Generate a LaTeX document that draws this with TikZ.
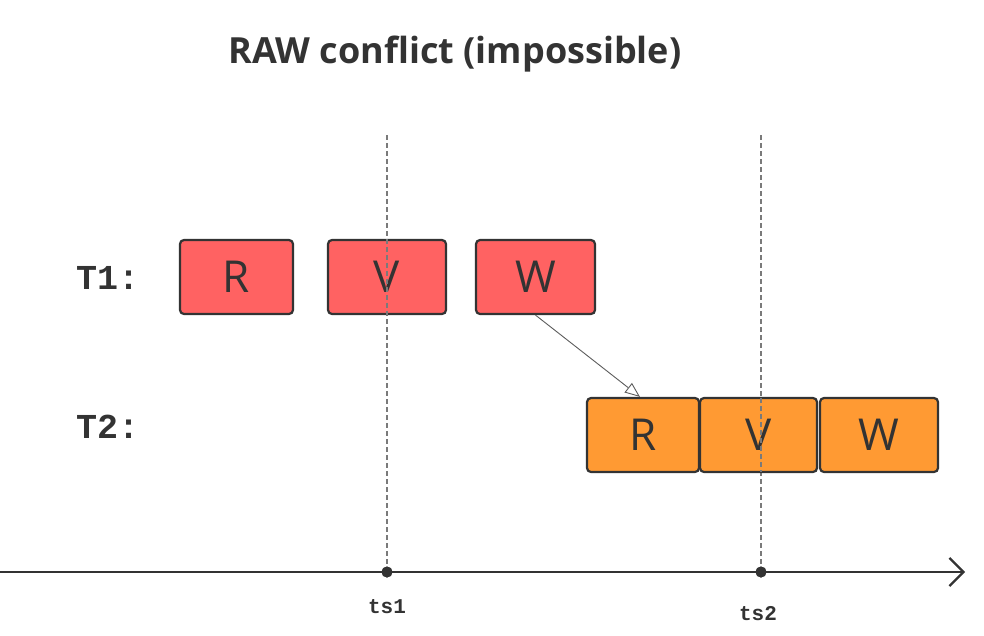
\documentclass[tikz,border=0pt]{standalone}
\usepackage{fontspec}
\setmainfont{Open Sans}
\newfontfamily\monob{Liberation Mono}
\usetikzlibrary{arrows.meta}
\definecolor{ink}{HTML}{333333}
\definecolor{redbox}{HTML}{FF6262}
\definecolor{orbox}{HTML}{FF9A33}
\definecolor{dash}{HTML}{7A7A7A}
\tikzset{
  opbox/.style={draw=ink, line width=2.2pt, rounded corners=4pt, minimum height=74pt, text=ink, font=\fontsize{44}{44}\selectfont, inner sep=0pt},
  t1box/.style={opbox, fill=redbox},
  t2box/.style={opbox, fill=orbox},
  tlabel/.style={text=ink, font=\monob\bfseries\fontsize{35}{35}\selectfont, inner sep=0pt},
  tslabel/.style={text=ink, font=\monob\bfseries\fontsize{21}{21}\selectfont, inner sep=0pt},
  guide/.style={draw=dash, line width=1.4pt, dash pattern=on 5pt off 3pt},
  axis/.style={draw=ink, line width=2.2pt, -{Straight Barb[length=14pt, width=28pt, line width=2.2pt]}},
  dot/.style={circle, fill=ink, inner sep=0pt, minimum size=11pt},
  flow/.style={draw=ink!80, line width=0.9pt, -{Triangle[open, length=15pt, width=12pt, line width=0.9pt, fill=white]}}
}
\begin{document}
\begin{tikzpicture}[x=1pt, y=-1pt]
\useasboundingbox (0,0) rectangle (984,635);
\node[text=ink, font=\bfseries\fontsize{36}{36}\selectfont] (title) at (455,54) {RAW conflict (impossible)};
% guides
\coordinate (g1top) at (387,135);
\coordinate (g2top) at (761,135);
\node[dot] (ts1dot) at (387,572) {};
\node[dot] (ts2dot) at (761,572) {};
\draw[guide] (g1top) -- (ts1dot.center);
\draw[guide] (g2top) -- (ts2dot.center);
% labels
\node[tlabel, anchor=west] (t1) at (76,278) {T1:};
\node[tlabel, anchor=west] (t2) at (76,427) {T2:};
% T1 boxes
\node[t1box, minimum width=113pt] (r1) at (236.5,277) {R};
\node[t1box, minimum width=118pt] (v1) at (387,277) {V};
\node[t1box, minimum width=119pt] (w1) at (535.5,277) {W};
% T2 boxes
\node[t2box, minimum width=112pt] (r2) at (643,435) {R};
\node[t2box, minimum width=117pt] (v2) at (758.5,435) {V};
\node[t2box, minimum width=118pt] (w2) at (879,435) {W};
% redraw guide over boxes
\draw[guide] (v1.north) -- (v1.south);
\draw[guide] (761,398) -- (761,472);
% axis
\coordinate (axstart) at (0,572);
\coordinate (axend) at (965,572);
\draw[axis] (axstart) -- (axend);
\node[dot] at (ts1dot) {};
\node[dot] at (ts2dot) {};
\node[tslabel] (ts1) at (387,607) {ts1};
\node[tslabel] (ts2) at (758,614) {ts2};
% dependency arrow
\draw[flow] (w1.south) -- (r2.north -| 640,0);
\end{tikzpicture}
\end{document}
